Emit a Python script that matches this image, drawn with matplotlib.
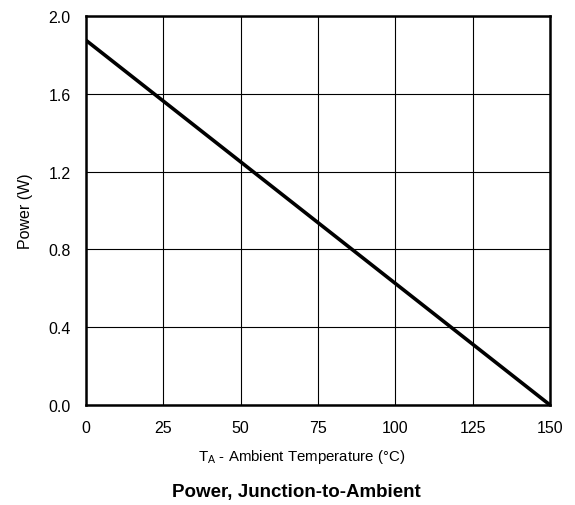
import matplotlib
matplotlib.use("Agg")
import matplotlib.pyplot as plt

plt.rcParams['font.family'] = ['Liberation Sans', 'DejaVu Sans']

# Power derating curve
temp_c = [0, 150]
power_w = [1.875, 0.0]

x_ticks = [0, 25, 50, 75, 100, 125, 150]
y_ticks = [0.0, 0.4, 0.8, 1.2, 1.6, 2.0]
y_tick_labels = ["0.0", "0.4", "0.8", "1.2", "1.6", "2.0"]

W, H = 575, 506
fig = plt.figure(figsize=(W / 100, H / 100), dpi=100)
ax = fig.add_axes([86/W, 1 - 406/H, (550 - 86)/W, (406 - 17)/H])

ax.plot(temp_c, power_w, color='black', linewidth=2.6, solid_capstyle='butt', zorder=3)

ax.set_xlim(0, 150)
ax.set_ylim(0, 2.0)
ax.set_xticks(x_ticks)
ax.set_yticks(y_ticks)
ax.set_yticklabels(y_tick_labels)
ax.grid(True, color='black', linewidth=0.8)
ax.tick_params(axis='y', length=0, labelsize=11.5, pad=11)
ax.tick_params(axis='x', length=0, labelsize=11.5, pad=11)
for s in ax.spines.values():
    s.set_linewidth(1.8)

ax.set_ylabel("Power (W)", fontsize=11.5, labelpad=11)
fig.text(302 / W, 1 - 457 / H, r"T$_\mathregular{A}$ - Ambient Temperature (°C)",
         ha='center', va='center', fontsize=10.8)
fig.text(296 / W, 1 - 493 / H, "Power, Junction-to-Ambient",
         ha='center', va='center', fontsize=13.5, fontweight='bold')

fig.savefig("out.png", dpi=100)
